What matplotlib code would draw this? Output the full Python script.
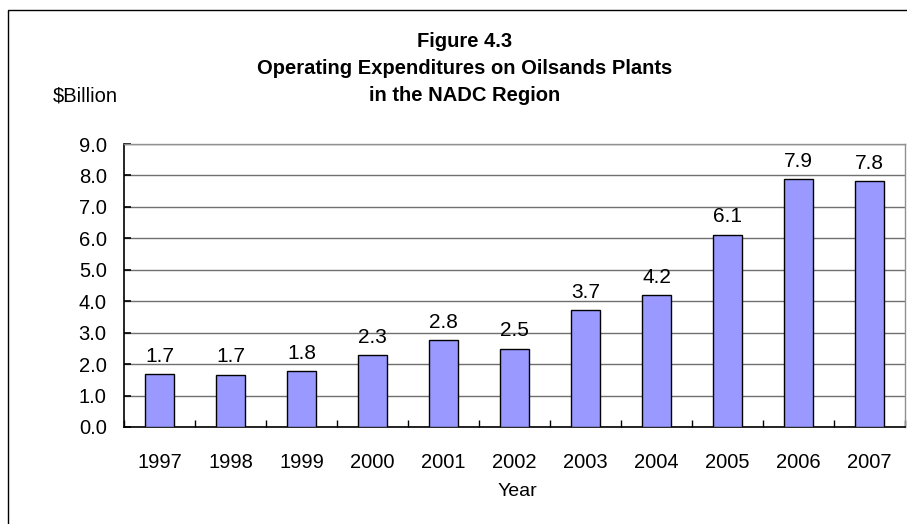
import matplotlib
matplotlib.use("Agg")
import matplotlib.pyplot as plt
from matplotlib.patches import Rectangle
import numpy as np

years = ["1997", "1998", "1999", "2000", "2001", "2002", "2003", "2004", "2005", "2006", "2007"]
values = [1.69, 1.66, 1.77, 2.29, 2.76, 2.49, 3.71, 4.20, 6.12, 7.88, 7.81]
yticks = [0.0, 1.0, 2.0, 3.0, 4.0, 5.0, 6.0, 7.0, 8.0, 9.0]
title_lines = ["Figure 4.3", "Operating Expenditures on Oilsands Plants", "in the NADC Region"]
ylabel = "$Billion"
xlabel = "Year"

plt.rcParams['font.family'] = ['Liberation Sans', 'DejaVu Sans']

W, H = 907, 524
fig = plt.figure(figsize=(W / 100, H / 100), dpi=100)
fig.patch.set_facecolor("white")

# outer frame (right/bottom cropped in reference)
fig.patches.append(Rectangle((8 / W, -0.1), 1.2, (H - 10) / H + 0.1, transform=fig.transFigure,
                             fill=False, edgecolor="black", linewidth=1.0))

left, right, top, bottom = 124, 905, 144, 427
ax = fig.add_axes([left / W, 1 - bottom / H, (right - left) / W, (bottom - top) / H])

x = np.arange(len(years))
ax.bar(x, values, width=0.41, color="#9999FF", edgecolor="black", linewidth=1.0, zorder=3)
for xi, v in zip(x, values):
    ax.annotate(f"{v:.1f}", (xi, v), xytext=(0, 6), textcoords="offset points",
                ha="center", va="bottom", fontsize=15, color="black")

ax.set_xlim(-0.5, len(years) - 0.5)
ax.set_ylim(0, 9)
ax.set_yticks(yticks)
ax.set_yticklabels([f"{t:.1f}" for t in yticks], fontsize=14.5)
ax.set_xticks(x)
ax.set_xticklabels(years, fontsize=14.5)
ax.tick_params(axis="x", length=0, pad=19)
ax.set_xticks(np.arange(len(years) + 1) - 0.5, minor=True)
ax.tick_params(axis="x", which="minor", direction="in", length=5, width=1, color="black")
ax.tick_params(axis="y", direction="in", length=5, width=1.2, color="black", pad=12.5)

ax.grid(axis="y", color="#707070", linewidth=1.0, zorder=0)
ax.set_axisbelow(True)
for s in ["top", "right"]:
    ax.spines[s].set_color("#909090")
    ax.spines[s].set_linewidth(1.0)
for s in ["left", "bottom"]:
    ax.spines[s].set_color("black")
    ax.spines[s].set_linewidth(1.2)

fs_title = 14.5
fig.text(465 / W, 1 - 47 / H, title_lines[0], ha="center", va="baseline", fontsize=fs_title, fontweight="bold")
fig.text(465 / W, 1 - 74 / H, title_lines[1], ha="center", va="baseline", fontsize=fs_title, fontweight="bold")
fig.text(465 / W, 1 - 101 / H, title_lines[2], ha="center", va="baseline", fontsize=fs_title, fontweight="bold")
fig.text(53 / W, 1 - 102 / H, ylabel, ha="left", va="baseline", fontsize=14.5)
fig.text(517 / W, 1 - 492 / H, xlabel, ha="center", va="center", fontsize=14)

fig.savefig("out.png", dpi=100)
